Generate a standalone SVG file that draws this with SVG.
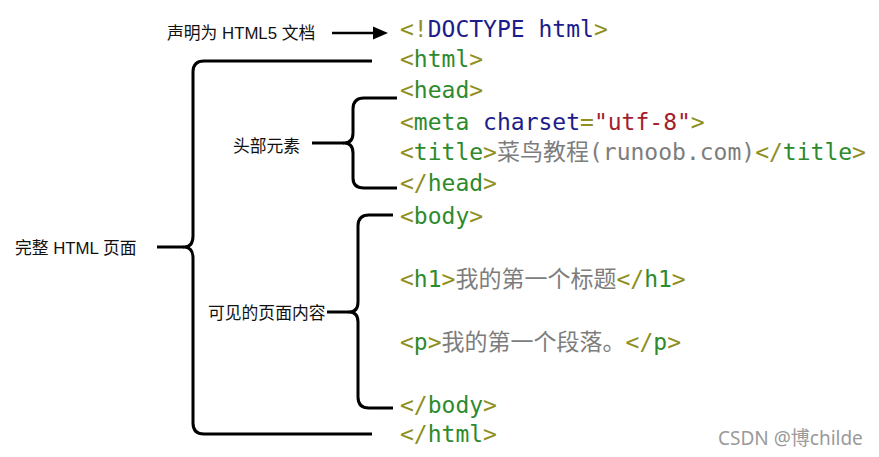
<svg xmlns="http://www.w3.org/2000/svg" width="879" height="457" viewBox="0 0 879 457">
<style>
.code{font-family:"DejaVu Sans Mono","Noto Sans CJK SC",monospace;font-size:23px;}
.b{fill:#8f8f22;}
.t{fill:#2d8a2d;}
.k{fill:#1c1c8a;}
.v{fill:#a3202c;}
.c{fill:#7d7d7d;}
.lbl{font-family:"Liberation Sans","Noto Sans CJK SC",sans-serif;font-size:16.8px;fill:#111;}
.wm{font-family:"Noto Sans","Noto Sans CJK SC",sans-serif;font-size:19px;fill:#9a9a9a;}
.br{fill:none;stroke:#000;stroke-width:3;stroke-linejoin:round;}
</style>
<rect width="879" height="457" fill="#fff"/>
<g id="connectors">
<path class="br" d="M372,61 H204 Q193,61 193,72 V236 Q193,247 184,247 Q193,247 193,258 V423 Q193,434 204,434 H372"/>
<path class="br" d="M157,247 H184"/>
<path class="br" d="M397,98 H364 Q353,98 353,109 V133 Q353,143 344,143 Q353,143 353,153 V178 Q353,188 364,188 H397"/>
<path class="br" d="M312,143 H344"/>
<path class="br" d="M393,215 H369 Q358,215 358,226 V302 Q358,312 349,312 Q358,312 358,322 V397 Q358,408 369,408 H393"/>
<path class="br" d="M327,312 H349"/>
<path d="M332,33 H378" stroke="#000" stroke-width="2.5" fill="none"/>
<path d="M373,26.5 L388,33 L373,39.5 Z" fill="#000"/>
</g>
<g id="label-doctype"><text class="lbl" x="167" y="39">声明为 HTML5 文档</text></g>
<g id="label-head"><text class="lbl" x="233" y="152">头部元素</text></g>
<g id="label-html"><text class="lbl" x="15" y="254">完整 HTML 页面</text></g>
<g id="label-body"><text class="lbl" x="208" y="319">可见的页面内容</text></g>
<g id="code">
<text class="code" x="400" y="37"><tspan class="b">&lt;!</tspan><tspan class="k">DOCTYPE html</tspan><tspan class="b">&gt;</tspan></text>
<text class="code" x="400" y="67"><tspan class="b">&lt;</tspan><tspan class="t">html</tspan><tspan class="b">&gt;</tspan></text>
<text class="code" x="400" y="98"><tspan class="b">&lt;</tspan><tspan class="t">head</tspan><tspan class="b">&gt;</tspan></text>
<text class="code" x="400" y="130"><tspan class="b">&lt;</tspan><tspan class="t">meta</tspan><tspan class="k"> charset</tspan><tspan class="b">=</tspan><tspan class="v">"utf-8"</tspan><tspan class="b">&gt;</tspan></text>
<text class="code" x="400" y="160"><tspan class="b">&lt;</tspan><tspan class="t">title</tspan><tspan class="b">&gt;</tspan><tspan class="c">菜鸟教程(runoob.com)</tspan><tspan class="b">&lt;/</tspan><tspan class="t">title</tspan><tspan class="b">&gt;</tspan></text>
<text class="code" x="400" y="191"><tspan class="b">&lt;/</tspan><tspan class="t">head</tspan><tspan class="b">&gt;</tspan></text>
<text class="code" x="400" y="224"><tspan class="b">&lt;</tspan><tspan class="t">body</tspan><tspan class="b">&gt;</tspan></text>
<text class="code" x="400" y="287"><tspan class="b">&lt;</tspan><tspan class="t">h1</tspan><tspan class="b">&gt;</tspan><tspan class="c">我的第一个标题</tspan><tspan class="b">&lt;/</tspan><tspan class="t">h1</tspan><tspan class="b">&gt;</tspan></text>
<text class="code" x="400" y="350"><tspan class="b">&lt;</tspan><tspan class="t">p</tspan><tspan class="b">&gt;</tspan><tspan class="c">我的第一个段落。</tspan><tspan class="b">&lt;/</tspan><tspan class="t">p</tspan><tspan class="b">&gt;</tspan></text>
<text class="code" x="400" y="413"><tspan class="b">&lt;/</tspan><tspan class="t">body</tspan><tspan class="b">&gt;</tspan></text>
<text class="code" x="400" y="442"><tspan class="b">&lt;/</tspan><tspan class="t">html</tspan><tspan class="b">&gt;</tspan></text>
</g>
<g id="watermark"><text class="wm" x="718" y="445">CSDN @博childe</text></g>
</svg>
